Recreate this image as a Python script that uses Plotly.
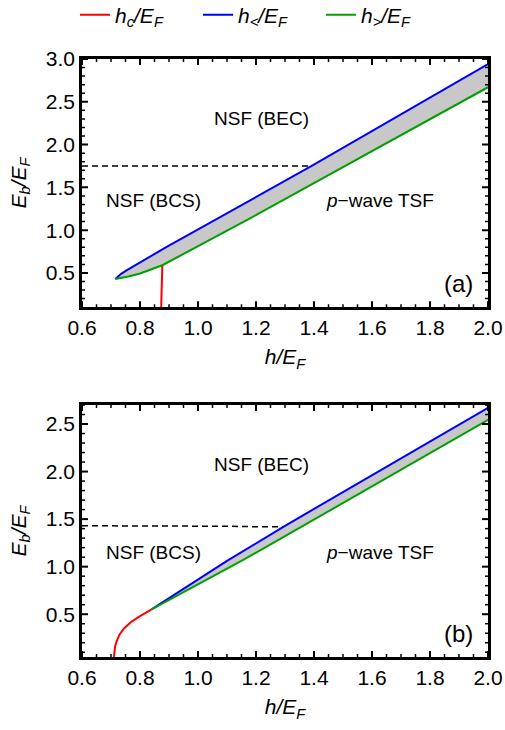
import plotly.graph_objects as go

# ---- panel (a) ----
a_hc_h = [0.873, 0.874, 0.875, 0.877]
a_hc_E = [0.10, 0.30, 0.50, 0.59]
a_hlt_h = [0.715, 0.722, 0.735, 0.755, 0.81, 0.892, 1.392, 2.0]
a_hlt_E = [0.43, 0.455, 0.49, 0.533, 0.645, 0.805, 1.75, 2.94]
a_hgt_h = [0.715, 0.73, 0.76, 0.80, 0.84, 0.877, 1.168, 2.0]
a_hgt_E = [0.43, 0.438, 0.458, 0.494, 0.54, 0.59, 1.117, 2.67]
a_dash_h = [0.6, 1.392]
a_dash_E = [1.75, 1.75]

# ---- panel (b) ----
b_hc_h = [0.710, 0.711, 0.714, 0.720, 0.730, 0.745, 0.770, 0.800, 0.840]
b_hc_E = [0.05, 0.10, 0.16, 0.22, 0.29, 0.35, 0.42, 0.48, 0.55]
b_hlt_h = [0.84, 1.10, 1.30, 2.0]
b_hlt_E = [0.55, 1.06, 1.43, 2.67]
b_hgt_h = [0.84, 1.156, 1.30, 2.0]
b_hgt_E = [0.55, 1.071, 1.32, 2.545]
b_dash_h = [0.6, 0.9, 1.1, 1.2, 1.295]
b_dash_E = [1.43, 1.43, 1.425, 1.42, 1.42]

x_ticks = [0.6, 0.8, 1.0, 1.2, 1.4, 1.6, 1.8, 2.0]
a_y_ticks = [0.5, 1.0, 1.5, 2.0, 2.5, 3.0]
b_y_ticks = [0.5, 1.0, 1.5, 2.0, 2.5]
x_range = [0.6, 2.0]
a_y_range = [0.1, 3.0]
b_y_range = [0.05, 2.7]

RED, BLUE, GREEN, GRAY = "#ff0000", "#0000ff", "#00a000", "#c8c8c8"
FONT = "Liberation Sans, Arial, sans-serif"

W, H = 505, 730
M = dict(l=82, r=17, t=59, b=73)
A_DOM = [0.585, 1.0]
B_DOM = [0.0, 0.4214]
PLOT_W = W - M["l"] - M["r"]
PLOT_H = H - M["t"] - M["b"]

fig = go.Figure()


def add_panel(xa, ya, hc_h, hc_E, lt_h, lt_E, gt_h, gt_E, d_h, d_E, legend):
    # shaded band between h_< and h_>
    fig.add_trace(go.Scatter(
        x=lt_h + gt_h[::-1], y=lt_E + gt_E[::-1], fill="toself",
        fillcolor=GRAY, line=dict(width=0), mode="lines",
        hoverinfo="skip", showlegend=False, xaxis=xa, yaxis=ya))
    fig.add_trace(go.Scatter(
        x=d_h, y=d_E, mode="lines", line=dict(color="black", width=1.5, dash="6px,4px"),
        showlegend=False, hoverinfo="skip", xaxis=xa, yaxis=ya))
    fig.add_trace(go.Scatter(
        x=hc_h, y=hc_E, mode="lines", line=dict(color=RED, width=2),
        name="<i>h<sub>c</sub>/E<sub>F</sub></i>", showlegend=legend,
        xaxis=xa, yaxis=ya))
    fig.add_trace(go.Scatter(
        x=lt_h, y=lt_E, mode="lines", line=dict(color=BLUE, width=2),
        name="<i>h<sub>&lt;</sub>/E<sub>F</sub></i>", showlegend=legend,
        xaxis=xa, yaxis=ya))
    fig.add_trace(go.Scatter(
        x=gt_h, y=gt_E, mode="lines", line=dict(color=GREEN, width=2),
        name="<i>h<sub>&gt;</sub>/E<sub>F</sub></i>", showlegend=legend,
        xaxis=xa, yaxis=ya))


def add_frame_ticks(xa, ya, y_range, y_major, dom):
    """Inward Mathematica-style frame ticks on all four sides (major + minor)."""
    px_x = (x_range[1] - x_range[0]) / PLOT_W
    px_y = (y_range[1] - y_range[0]) / (PLOT_H * (dom[1] - dom[0]))
    x_all = [round(0.6 + 0.05 * i, 2) for i in range(29)]
    y_all = [v for v in (round(0.1 * i, 1) for i in range(31)) if y_range[0] < v <= y_range[1]]
    for is_major, L, w in ((True, 6, 2), (False, 3, 1.5)):
        xs, ys = [], []
        for v in x_all:
            if any(abs(v - t) < 1e-9 for t in x_ticks) != is_major:
                continue
            xs += [v, v, None, v, v, None]
            ys += [y_range[0], y_range[0] + L * px_y, None,
                   y_range[1], y_range[1] - L * px_y, None]
        for v in y_all:
            if any(abs(v - t) < 1e-9 for t in y_major) != is_major:
                continue
            xs += [x_range[0], x_range[0] + L * px_x, None,
                   x_range[1], x_range[1] - L * px_x, None]
            ys += [v, v, None, v, v, None]
        fig.add_trace(go.Scatter(x=xs, y=ys, mode="lines",
                                 line=dict(color="black", width=w),
                                 hoverinfo="skip", showlegend=False, xaxis=xa, yaxis=ya))


add_panel("x", "y", a_hc_h, a_hc_E, a_hlt_h, a_hlt_E, a_hgt_h, a_hgt_E,
          a_dash_h, a_dash_E, True)
add_panel("x2", "y2", b_hc_h, b_hc_E, b_hlt_h, b_hlt_E, b_hgt_h, b_hgt_E,
          b_dash_h, b_dash_E, False)
add_frame_ticks("x", "y", a_y_range, a_y_ticks, A_DOM)
add_frame_ticks("x2", "y2", b_y_range, b_y_ticks, B_DOM)

axis_common = dict(
    showline=True, linecolor="black", linewidth=2.5, mirror=True,
    ticks="", showgrid=False, zeroline=False, tickformat=".1f",
    tickfont=dict(family=FONT, size=21, color="black"),
)

xtitle = dict(text="<i>h/E<sub>F</sub></i>", font=dict(family=FONT, size=21, color="black"), standoff=12)
ytitle = dict(text="<i>E<sub>b</sub>/E<sub>F</sub></i>", font=dict(family=FONT, size=21, color="black"), standoff=14)


def xaxis(anchor):
    return dict(axis_common, domain=[0, 1], range=x_range, tickmode="array",
                tickvals=x_ticks, anchor=anchor, title=xtitle)


def yaxis(anchor, dom, rng, ticks):
    return dict(axis_common, domain=dom, range=rng, tickmode="array",
                tickvals=ticks, anchor=anchor, title=ytitle)


fig.update_layout(
    width=W, height=H,
    margin=dict(M, autoexpand=False),
    plot_bgcolor="white", paper_bgcolor="white",
    xaxis=xaxis("y"),
    yaxis=yaxis("x", A_DOM, a_y_range, a_y_ticks),
    xaxis2=xaxis("y2"),
    yaxis2=yaxis("x2", B_DOM, b_y_range, b_y_ticks),
    legend=dict(orientation="h", xref="container", x=75 / 505, xanchor="left",
                yref="container", y=1 - 15 / 730, yanchor="middle",
                entrywidth=78, entrywidthmode="pixels",
                font=dict(family=FONT, size=21, color="black"), itemwidth=30,
                bgcolor="rgba(0,0,0,0)"),
    showlegend=True,
)

label_font = dict(family=FONT, size=19, color="black")
for xr, yr, E_bec, E_mid, E_tag, tag in [("x", "y", 2.31, 1.35, 0.38, "(a)"),
                                         ("x2", "y2", 2.07, 1.145, 0.30, "(b)")]:
    fig.add_annotation(x=1.22, y=E_bec, xref=xr, yref=yr, text="NSF (BEC)",
                       showarrow=False, font=label_font)
    fig.add_annotation(x=0.845, y=E_mid, xref=xr, yref=yr, text="NSF (BCS)",
                       showarrow=False, font=label_font)
    fig.add_annotation(x=1.628, y=E_mid, xref=xr, yref=yr, text="<i>p</i>\u2212wave TSF",
                       showarrow=False, font=label_font)
    fig.add_annotation(x=1.897, y=E_tag, xref=xr, yref=yr, text=tag,
                       showarrow=False, font=dict(family=FONT, size=24, color="black"))

fig.write_html("out.html")
